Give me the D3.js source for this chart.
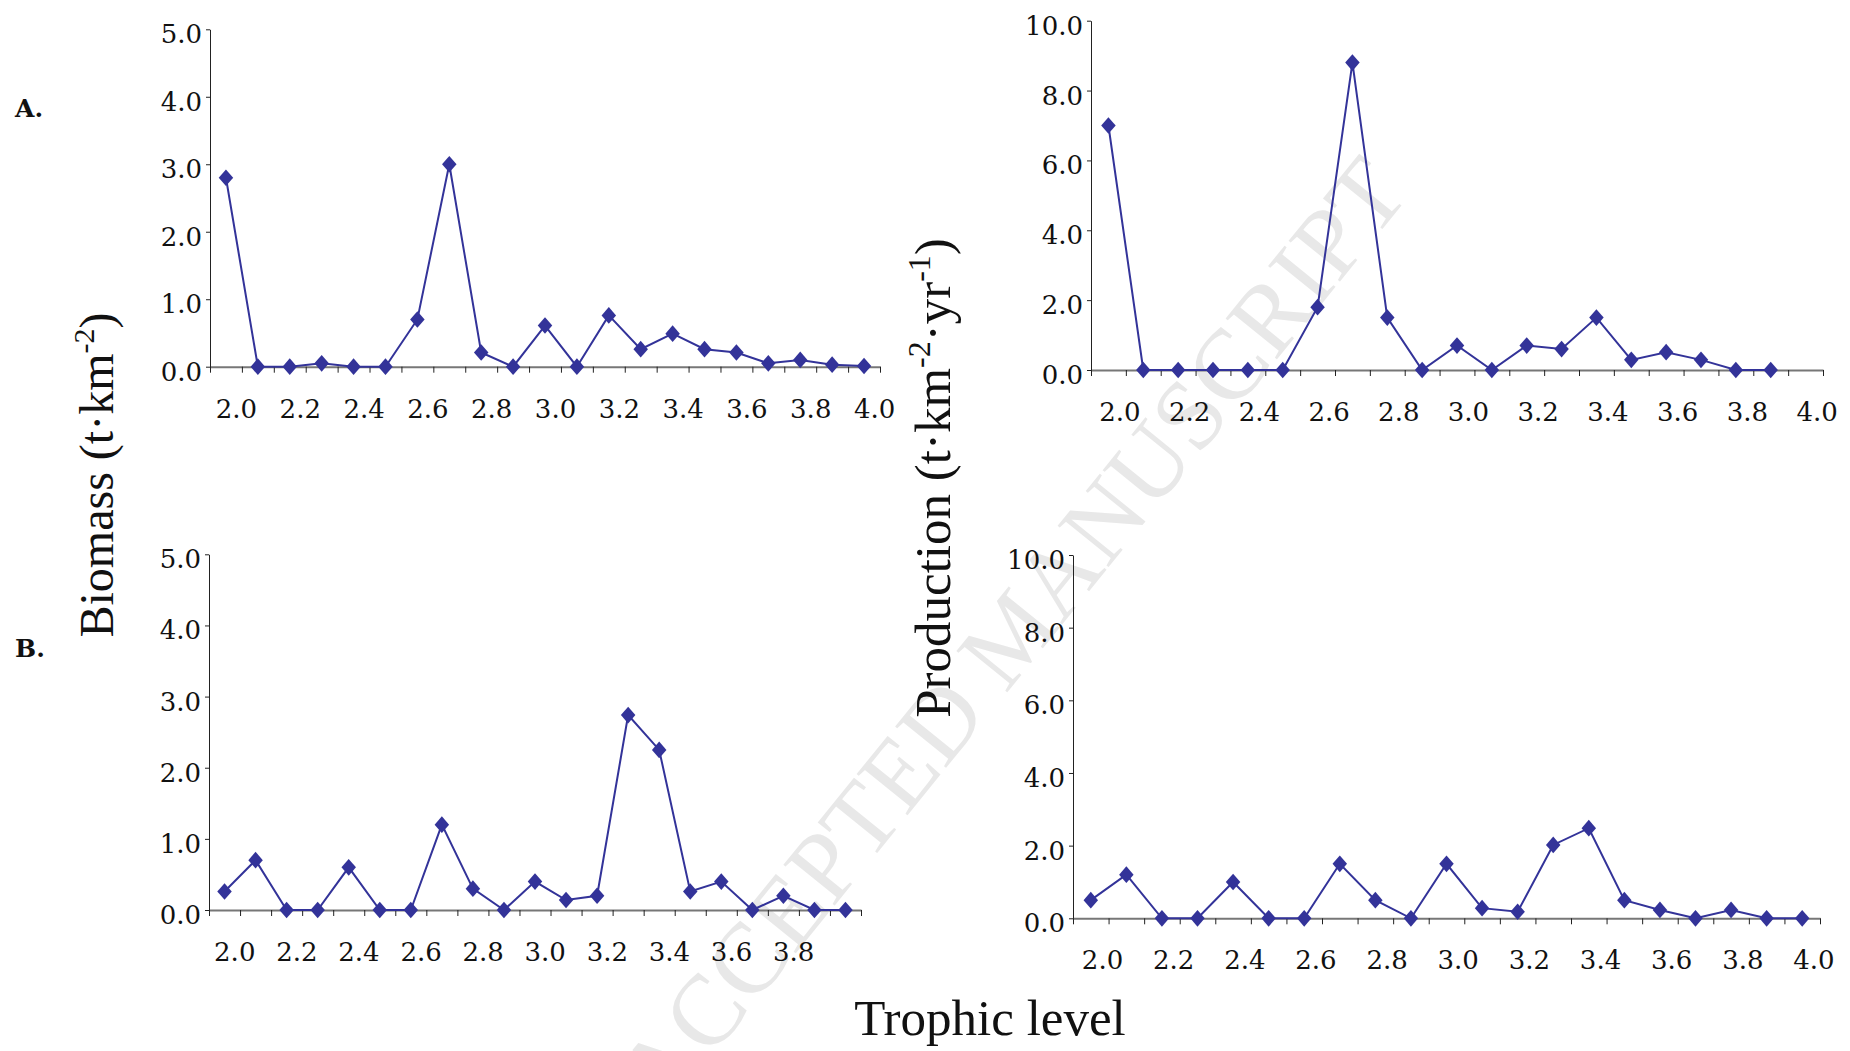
<!DOCTYPE html>
<html>
<head>
<meta charset="utf-8">
<script src="https://cdn.jsdelivr.net/npm/d3@7"></script>
<style>
  body { margin: 0; background: #fff; }
  svg { display: block; }
</style>
</head>
<body>
<script>
// categories on the x axis (trophic level)
var trophicLevels = ["2.0","2.1","2.2","2.3","2.4","2.5","2.6","2.7","2.8","2.9","3.0",
                     "3.1","3.2","3.3","3.4","3.5","3.6","3.7","3.8","3.9","4.0"];
var xLabelsFull  = ["2.0","2.2","2.4","2.6","2.8","3.0","3.2","3.4","3.6","3.8","4.0"];
var xLabelsShort = ["2.0","2.2","2.4","2.6","2.8","3.0","3.2","3.4","3.6","3.8"];

var biomassTicks    = [0, 1, 2, 3, 4, 5];
var productionTicks = [0, 2, 4, 6, 8, 10];

// A. values
var biomassA    = [2.8, 0, 0, 0.05, 0, 0, 0.7, 3.0, 0.21, 0, 0.61, 0, 0.76, 0.26, 0.49, 0.26, 0.21, 0.05, 0.1, 0.03, 0.01];
var productionA = [7.0, 0, 0, 0, 0, 0, 1.8, 8.8, 1.5, 0, 0.7, 0, 0.7, 0.6, 1.5, 0.29, 0.51, 0.29, 0, 0];
// B. values
var biomassB    = [0.26, 0.7, 0, 0, 0.6, 0, 0, 1.2, 0.3, 0, 0.4, 0.14, 0.2, 2.74, 2.25, 0.26, 0.4, 0, 0.2, 0, 0];
var productionB = [0.5, 1.2, 0, 0, 1.0, 0, 0, 1.5, 0.5, 0, 1.5, 0.28, 0.18, 2.02, 2.48, 0.5, 0.23, 0, 0.23, 0, 0];

var W = 1850, H = 1051;
var blue = "#333399";

var svg = d3.select("body").append("svg")
    .attr("width", W)
    .attr("height", H);

// watermark
svg.append("text")
    .attr("transform", "translate(1020,640) rotate(-51)")
    .attr("text-anchor", "middle")
    .attr("dominant-baseline", "middle")
    .attr("font-family", "Liberation Serif")
    .attr("font-size", 100)
    .attr("fill", "#e8e8e8")
    .text("ACCEPTED MANUSCRIPT");

var panels = [
  {values: biomassA,    ticks: biomassTicks,    labels: xLabelsFull,  x0: 210,  x1: 880,  yTop: 29.3,  yBottom: 366.7, yMax: 5},
  {values: productionA, ticks: productionTicks, labels: xLabelsFull,  x0: 1091, x1: 1823, yTop: 20.7,  yBottom: 370,   yMax: 10},
  {values: biomassB,    ticks: biomassTicks,    labels: xLabelsShort, x0: 209,  x1: 861,  yTop: 554.3, yBottom: 910,   yMax: 5},
  {values: productionB, ticks: productionTicks, labels: xLabelsFull,  x0: 1073, x1: 1820, yTop: 555,   yBottom: 918.3, yMax: 10}
];

panels.forEach(function(p) {
  var x = d3.scaleBand().domain(trophicLevels).range([p.x0, p.x1]);
  var xEdge = d3.scaleLinear().domain([0, trophicLevels.length]).range([p.x0, p.x1]);
  var y = d3.scaleLinear().domain([0, p.yMax]).range([p.yBottom, p.yTop]);
  var g = svg.append("g");

  // x axis: ticks at category boundaries
  var xa = g.append("g")
      .attr("transform", "translate(0," + p.yBottom + ")")
      .call(d3.axisBottom(xEdge).tickValues(d3.range(trophicLevels.length + 1))
            .tickSize(6).tickSizeOuter(0).tickFormat(""));
  xa.select(".domain").attr("stroke", "#777").attr("stroke-width", 2);
  xa.selectAll(".tick line").attr("stroke", "#222");

  g.selectAll(".xlab")
      .data(p.labels)
    .enter().append("text")
      .attr("class", "xlab")
      .attr("x", function(d) { return x(d) + x.bandwidth() * 0.83; })
      .attr("y", p.yBottom + 51)
      .attr("text-anchor", "middle")
      .attr("font-family", "DejaVu Serif")
      .attr("font-size", 26)
      .attr("fill", "#111")
      .text(function(d) { return d; });

  // y axis
  var ya = g.append("g")
      .attr("transform", "translate(" + p.x0 + ",0)")
      .call(d3.axisLeft(y).tickValues(p.ticks).tickSize(4).tickSizeOuter(0)
            .tickPadding(4).tickFormat(d3.format(".1f")));
  ya.select(".domain").attr("stroke", "#222");
  ya.selectAll(".tick line").attr("stroke", "#222");
  ya.selectAll(".tick text")
      .attr("dy", "0.52em")
      .attr("font-family", "DejaVu Serif")
      .attr("font-size", 26)
      .attr("fill", "#111");

  var line = d3.line()
      .x(function(d, i) { return x(trophicLevels[i]) + x.bandwidth() / 2; })
      .y(function(d) { return y(d); });

  g.append("path")
      .datum(p.values)
      .attr("d", line)
      .attr("fill", "none")
      .attr("stroke", blue)
      .attr("stroke-width", 2);

  g.selectAll(".pt")
      .data(p.values)
    .enter().append("path")
      .attr("class", "pt")
      .attr("d", d3.symbol().type(d3.symbolSquare).size(105))
      .attr("fill", blue)
      .attr("transform", function(d, i) {
        return "translate(" + (x(trophicLevels[i]) + x.bandwidth() / 2) + "," + y(d) + ") scale(1,1.15) rotate(45)";
      });
});

// axis titles
var bio = svg.append("text")
    .attr("transform", "translate(113,475) rotate(-90)")
    .attr("text-anchor", "middle")
    .attr("font-family", "Liberation Serif")
    .attr("font-size", 48)
    .attr("fill", "#111");
bio.append("tspan").text("Biomass (t·km");
bio.append("tspan").attr("font-size", 30).attr("dy", -19).text("-2");
bio.append("tspan").attr("dy", 19).text(")");

var prod = svg.append("text")
    .attr("transform", "translate(950,478) rotate(-90)")
    .attr("text-anchor", "middle")
    .attr("font-family", "Liberation Serif")
    .attr("font-size", 51)
    .attr("fill", "#111");
prod.append("tspan").text("Production (t·km");
prod.append("tspan").attr("font-size", 32).attr("dy", -20).text("-2");
prod.append("tspan").attr("dy", 20).text("·yr");
prod.append("tspan").attr("font-size", 32).attr("dy", -20).text("-1");
prod.append("tspan").attr("dy", 20).text(")");

svg.append("text")
    .attr("x", 990)
    .attr("y", 1035)
    .attr("text-anchor", "middle")
    .attr("font-family", "Liberation Serif")
    .attr("font-size", 51)
    .attr("fill", "#111")
    .text("Trophic level");

svg.append("text")
    .attr("x", 15).attr("y", 117)
    .attr("font-family", "DejaVu Serif")
    .attr("font-weight", "bold")
    .attr("font-size", 25)
    .attr("fill", "#111")
    .text("A.");

svg.append("text")
    .attr("x", 15).attr("y", 657)
    .attr("font-family", "DejaVu Serif")
    .attr("font-weight", "bold")
    .attr("font-size", 25)
    .attr("fill", "#111")
    .text("B.");
</script>
</body>
</html>
